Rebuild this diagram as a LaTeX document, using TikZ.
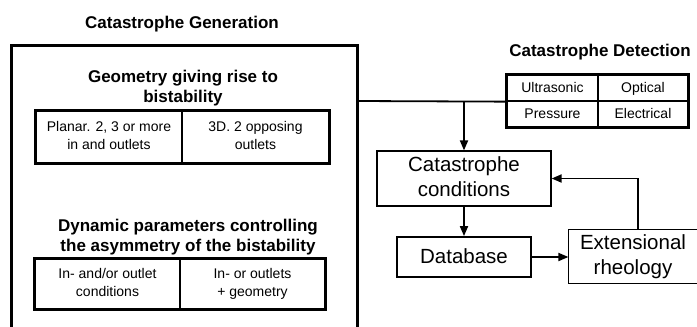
\documentclass[tikz,border=0pt]{standalone}
\usepackage{fontspec}
\setmainfont{Liberation Sans}
\usetikzlibrary{arrows.meta}
\newcommand\cellstrut{\rule[-0.2em]{0pt}{1em}}
\begin{document}
\begin{tikzpicture}[x=1pt,y=-1pt,
  title/.style={font=\fontsize{17}{20.5}\selectfont\bfseries, align=center, inner sep=0pt},
  cell/.style={draw, line width=1.3pt, font=\fontsize{14}{18}\selectfont, align=center, inner sep=0pt, minimum height=#1,
    execute at begin node=\cellstrut, execute at end node=\cellstrut},
  cell/.default=52,
  bigtext/.style={draw, line width=1.2pt, font=\fontsize{20.5}{25}\selectfont, align=center, inner sep=0pt,
    execute at begin node=\cellstrut, execute at end node=\cellstrut},
  conn/.style={line width=1.8pt},
  arr/.style={conn, -{Triangle[length=10pt,width=8pt]}}]
\useasboundingbox (0,0) rectangle (697,327);
% Catastrophe Generation frame
\node[title] (gent) at (182,24) {Catastrophe Generation};
\draw[line width=3pt] (11,327) -- (11,45) -- (357,45) -- (357,327);
\coordinate (genR) at (357,101);
% Geometry table
\node[title] (geot) at (183,88) {Geometry giving rise to\\bistability};
\node[cell, minimum width=146] (pl) at (109,137) {Planar. 2, 3 or more\\in and outlets};
\node[cell, minimum width=147] (td) at (255.5,137) {3D. 2 opposing\\outlets};
\draw[line width=2pt] (pl.north west) rectangle (td.south east);
% Dynamic table
\node[title] (dynt) at (188,237) {Dynamic parameters controlling\\the asymmetry of the bistability};
\node[cell=50, minimum width=145] (io) at (107.5,284) {In- and/or outlet\\conditions};
\node[cell=50, minimum width=145] (ig) at (252.5,284) {In- or outlets\\+ geometry};
\draw[line width=2pt] (io.north west) rectangle (ig.south east);
% Detection
\node[title] (dett) at (600,52) {Catastrophe Detection};
\node[cell=26, minimum width=91] (ul) at (552.5,88) {Ultrasonic};
\node[cell=26, minimum width=90] (op) at (643,88) {Optical};
\node[cell=26, minimum width=91] (pr) at (552.5,114) {Pressure};
\node[cell=26, minimum width=90] (el) at (643,114) {Electrical};
\draw[line width=2.6pt] (ul.north west) rectangle (el.south east);
% Flow
\node[bigtext, minimum width=174, minimum height=55] (cc) at (464,178.5) {Catastrophe\\conditions};
\node[bigtext, line width=1.8pt, minimum width=134, minimum height=40] (db) at (464,257) {Database};
\node[bigtext, draw=none, minimum width=128, minimum height=53] (ex) at (633,256.5) {Extensional\\rheology};
\draw[line width=1.2pt] (ex.north east) -- (ex.north west) -- (ex.south west) -- (ex.south east);
\draw[conn] (genR) -- (ul.south west);
\draw[arr] (cc.north |- genR) -- (cc.north);
\draw[arr] (cc.south) -- (db.north);
\draw[arr] (db.east) -- (db.east -| ex.west);
\draw[arr] ([xshift=5pt]ex.north) |- (cc.east);
\end{tikzpicture}
\end{document}
